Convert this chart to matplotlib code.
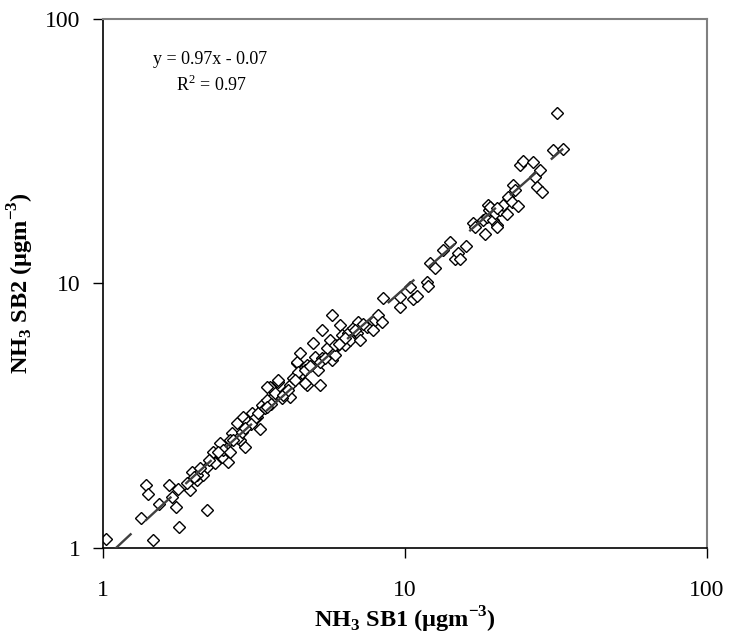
import numpy as np
import matplotlib
matplotlib.use('Agg')
import matplotlib.pyplot as plt

plt.rcParams['font.family'] = ['Liberation Serif', 'DejaVu Serif']
plt.rcParams['mathtext.fontset'] = 'custom'
plt.rcParams['mathtext.rm'] = 'Liberation Serif'
plt.rcParams['mathtext.bf'] = 'Liberation Serif:bold'

# NH3 concentrations (ug m-3)
sb1 = [1.02, 1.39, 1.41, 1.34, 1.46, 1.53, 1.65, 1.74, 1.78, 2.21,
       1.77, 1.69, 1.94, 1.97, 2.05, 2.14, 1.90, 2.21, 2.31, 2.44,
       2.59, 2.53, 2.48, 2.67, 2.78, 2.91, 2.95, 2.84, 3.00, 3.31,
       3.23, 3.39, 3.57, 3.62, 3.80, 4.16, 4.16, 4.73, 5.23, 2.05,
       2.50, 2.63, 2.63, 2.80, 2.88, 3.03, 3.11, 3.19, 3.25, 3.36,
       3.44, 3.71, 3.91, 4.39, 4.56, 4.66, 4.73, 2.35, 3.49, 3.80,
       4.26, 4.39, 4.49, 4.42, 4.96, 4.96, 5.03, 5.15, 5.31, 5.31,
       5.51, 5.65, 5.72, 5.72, 5.86, 5.99, 6.09, 6.18, 6.32, 6.46,
       6.58, 6.73, 6.93, 6.98, 7.10, 7.49, 7.83, 7.96, 8.14, 8.40,
       8.45, 3.49, 4.66, 4.85, 5.23, 4.00, 4.32, 5.86, 6.32, 6.85,
       9.63, 9.63, 10.4, 10.6, 11.0, 11.8, 11.9, 12.1, 12.6, 13.4,
       14.1, 14.6, 15.0, 15.2, 15.9, 16.8, 17.1, 18.4, 18.1, 18.7,
       19.0, 18.9, 19.5, 19.9, 20.2, 20.6, 21.1, 21.8, 21.9, 22.6,
       22.8, 23.2, 23.7, 24.0, 24.5, 26.5, 27.0, 27.4, 28.0, 28.5,
       30.9, 33.4, 31.9, 19.1, 20.1, 20.1, 2.10, 2.25, 2.70, 3.10,
       3.60, 3.95, 5.45, 6.05, 7.25, 2.00, 2.40, 2.95, 3.50, 4.10]
sb2 = [1.08, 1.73, 1.60, 1.30, 1.07, 1.47, 1.73, 1.43, 1.20, 1.39,
       1.67, 1.56, 1.66, 1.94, 1.81, 1.89, 1.76, 2.02, 2.31, 2.49,
       2.11, 2.31, 2.21, 2.72, 2.97, 3.13, 2.41, 2.56, 2.92, 2.82,
       3.13, 3.41, 4.06, 3.69, 4.24, 3.72, 4.13, 4.13, 4.13, 1.89,
       2.35, 2.31, 2.56, 2.60, 2.74, 2.99, 3.24, 3.10, 3.24, 3.47,
       3.38, 3.85, 3.69, 5.00, 4.59, 4.21, 4.93, 2.10, 4.06, 4.32,
       4.39, 5.05, 5.46, 4.63, 4.93, 5.96, 5.27, 4.71, 6.68, 5.23,
       5.70, 6.12, 5.14, 7.62, 5.37, 5.85, 6.97, 6.39, 5.85, 6.50,
       6.12, 6.80, 6.50, 7.14, 6.12, 6.85, 6.68, 7.29, 7.62, 7.14,
       8.81, 3.63, 4.71, 4.89, 5.05, 3.89, 4.32, 5.85, 6.24, 6.68,
       8.14, 8.87, 9.69, 8.77, 8.96, 10.1, 9.79, 12.0, 11.4, 13.4,
       14.3, 12.4, 13.0, 12.4, 13.8, 16.9, 16.3, 15.4, 17.4, 17.9,
       19.0, 19.8, 17.4, 18.5, 16.6, 19.0, 19.8, 18.3, 21.3, 20.3,
       23.5, 22.6, 19.7, 28.0, 29.0, 28.9, 25.2, 23.2, 26.9, 22.2,
       32.0, 32.2, 44.1, 19.4, 19.3, 16.3, 2.00, 2.15, 2.55, 2.95,
       3.50, 3.80, 5.25, 5.90, 7.00, 1.85, 2.30, 2.85, 3.40, 3.95]

slope = 0.97
intercept = -0.07
r2 = 0.97

fig = plt.figure(figsize=(7.29, 6.43), dpi=100)
ax = fig.add_axes([0.1413, 0.1477, 0.8285, 0.8228])

ax.plot(sb1, sb2, linestyle='none', marker='D', markersize=5.8,
        markerfacecolor='white', markeredgecolor='black', markeredgewidth=1.0,
        zorder=2)

xfit = np.linspace(min(sb1), max(sb1), 400)
ax.plot(xfit, slope * xfit + intercept, color='#404040', lw=1.7,
        linestyle=(0, (15, 8)), zorder=3)

ax.set_xscale('log')
ax.set_yscale('log')
ax.set_xlim(1, 100)
ax.set_ylim(1, 100)
ax.set_xticks([1, 10, 100])
ax.set_xticklabels(['1', '10', '100'])
ax.set_yticks([1, 10, 100])
ax.set_yticklabels(['1', '10', '100'])
ax.minorticks_off()
ax.tick_params(axis='both', direction='out', length=7, width=1.0, labelsize=17)
ax.tick_params(axis='x', pad=16)
ax.tick_params(axis='y', pad=9)

for side in ['left', 'bottom']:
    ax.spines[side].set_color('black')
    ax.spines[side].set_linewidth(1.2)
for side in ['top', 'right']:
    ax.spines[side].set_color('#808080')
    ax.spines[side].set_linewidth(1.5)

ax.set_xlabel(r'NH$_\mathbf{3}$ SB1 (μgm$^\mathbf{-3}$)', fontsize=17.5,
              fontweight='bold', labelpad=3)
ax.set_ylabel(r'NH$_\mathbf{3}$ SB2 (μgm$^\mathbf{-3}$)', fontsize=17.5,
              fontweight='bold', labelpad=7)

ax.text(0.083, 0.9225, f'y = {slope}x - {abs(intercept)}', transform=ax.transAxes,
        fontsize=13, ha='left', va='center')
ax.text(0.179, 0.875, f'R$^2$ = {r2}', transform=ax.transAxes,
        fontsize=13, ha='center', va='center')

fig.savefig('out.png', dpi=100)
